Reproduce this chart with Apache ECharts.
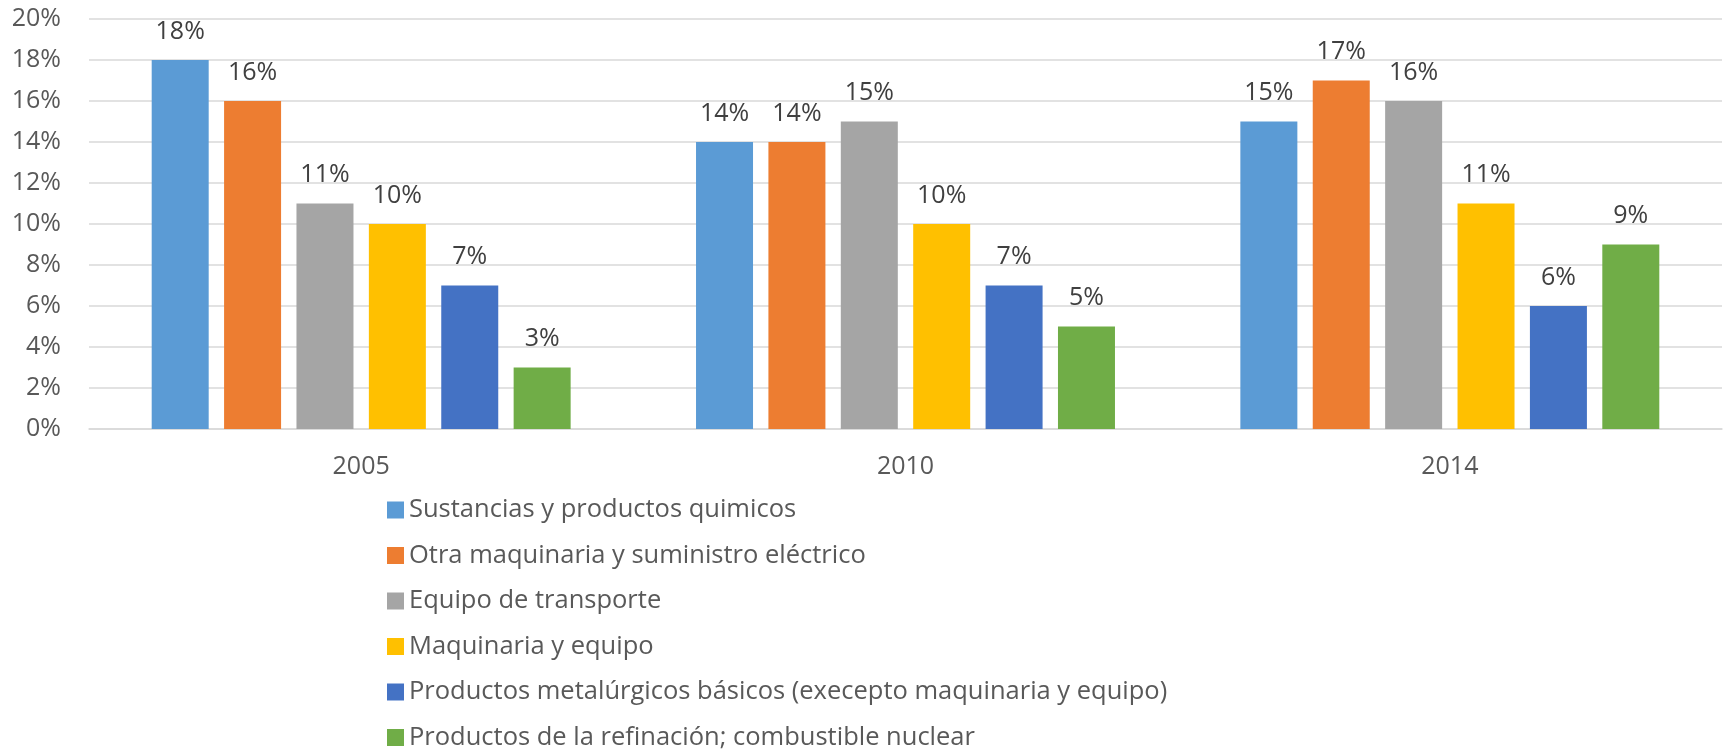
<!DOCTYPE html>
<html><head><meta charset="utf-8">
<script src="https://cdn.jsdelivr.net/npm/echarts@6/dist/echarts.min.js"></script>
<style>html,body{margin:0;padding:0;background:#fff}#c{width:1725px;height:751px}</style>
</head><body><div id="c"></div>
<script>
const categories = ['2005', '2010', '2014'];
const seriesNames = [
  'Sustancias y productos quimicos',
  'Otra maquinaria y suministro eléctrico',
  'Equipo de transporte',
  'Maquinaria y equipo',
  'Productos metalúrgicos básicos (execepto maquinaria y equipo)',
  'Productos de la refinación; combustible nuclear'
];
const sustancias = [18, 14, 15];
const otraMaquinaria = [16, 14, 17];
const equipoTransporte = [11, 15, 16];
const maquinariaEquipo = [10, 10, 11];
const metalurgicos = [7, 7, 6];
const refinacion = [3, 5, 9];
const colors = ['#5B9BD5', '#ED7D31', '#A5A5A5', '#FFC000', '#4472C4', '#70AD47'];
const allValues = [sustancias, otraMaquinaria, equipoTransporte, maquinariaEquipo, metalurgicos, refinacion];

const FONT = 'Open Sans';
const chart = echarts.init(document.getElementById('c'));
chart.setOption({
  animation: false,
  textStyle: { fontFamily: FONT },
  grid: { left: 89, right: 3, top: 19, bottom: 322, containLabel: false },
  xAxis: {
    type: 'category', data: categories,
    axisLine: { lineStyle: { color: '#d9d9d9', width: 1.5 } },
    axisTick: { show: false },
    axisLabel: { color: '#595959', fontSize: 25, fontFamily: FONT, margin: 25 }
  },
  yAxis: {
    type: 'value', min: 0, max: 20, interval: 2,
    axisLine: { show: false }, axisTick: { show: false },
    splitLine: { lineStyle: { color: '#d9d9d9', width: 1.5 } },
    axisLabel: { color: '#595959', fontSize: 25, fontFamily: FONT, margin: 28, formatter: '{value}%' }
  },
  legend: {
    orient: 'vertical', left: 387, top: 497, height: 300, padding: 0,
    itemWidth: 17, itemHeight: 17, itemGap: 19.5,
    icon: 'rect',
    textStyle: { color: '#595959', fontSize: 25.5, fontFamily: FONT, padding: [0, 0, 0, 0] },
    data: seriesNames
  },
  series: allValues.map((vals, i) => ({
    name: seriesNames[i], type: 'bar', data: vals,
    barWidth: 57, barGap: '27%',
    itemStyle: { color: colors[i] },
    label: { show: true, position: 'top', distance: 16, color: '#404040', fontSize: 25, fontFamily: FONT, formatter: '{c}%' }
  }))
});
</script></body></html>
